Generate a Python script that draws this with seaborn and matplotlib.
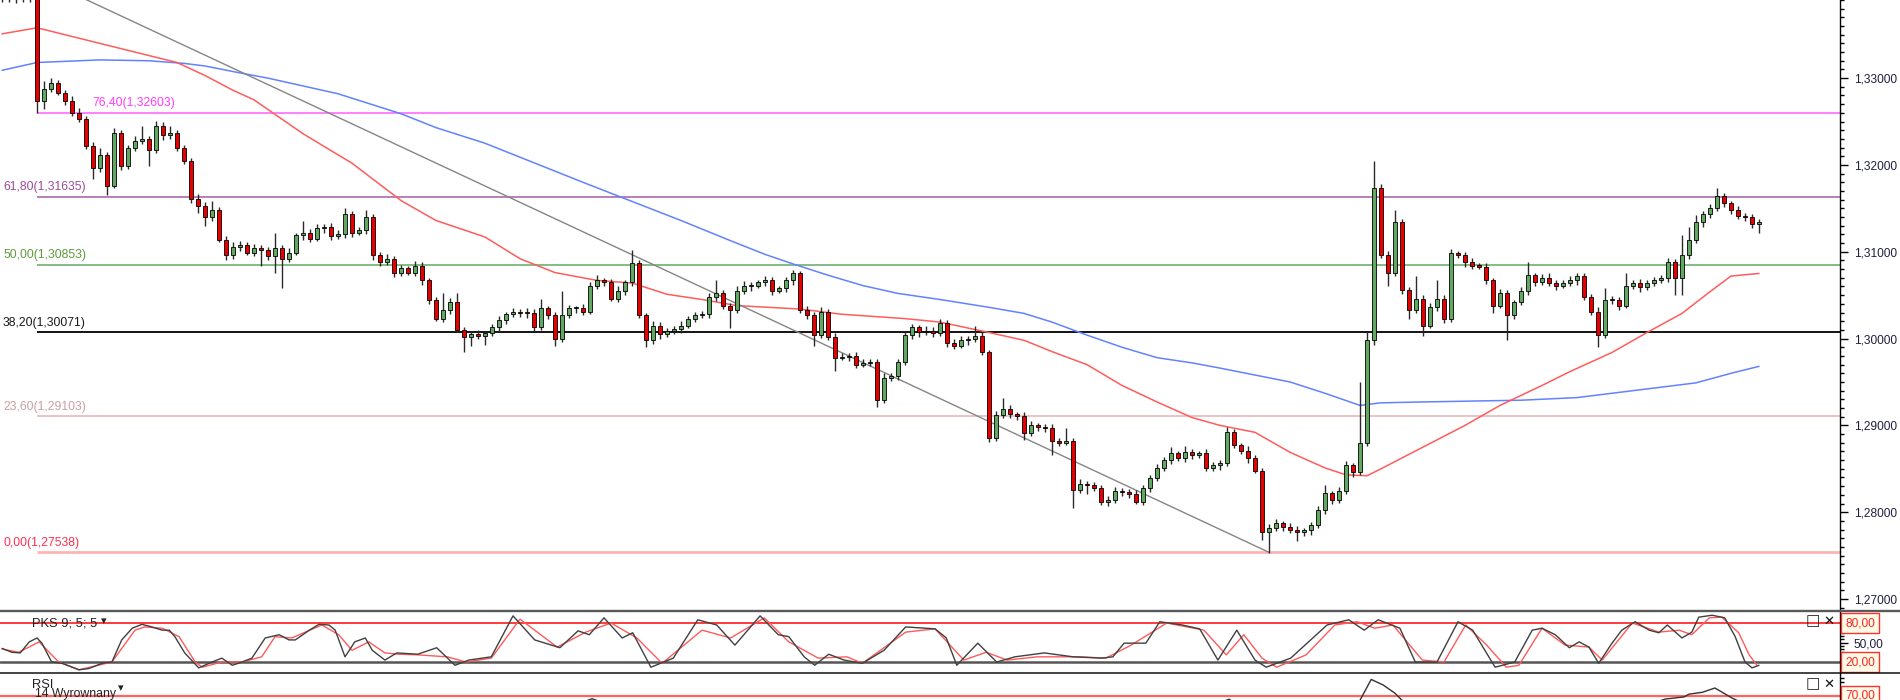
import numpy as np
import matplotlib
matplotlib.use("Agg")
import matplotlib.pyplot as plt
import matplotlib.transforms as mtrans
from matplotlib.lines import Line2D
import seaborn as sns

# ---------------- data ----------------
open0 = 1.3402
closes = [
    1.3405, 1.3408, 1.3403, 1.3406, 1.3410, 1.3274, 1.3288, 1.3294, 1.3283, 1.3274,
    1.3260, 1.3253, 1.3222, 1.3196, 1.3211, 1.3176, 1.3237, 1.3199, 1.3219, 1.3228,
    1.3230, 1.3217, 1.3245, 1.3234, 1.3237, 1.3219, 1.3205, 1.3161, 1.3153, 1.3140,
    1.3148, 1.3114, 1.3096, 1.3106, 1.3108, 1.3099, 1.3104, 1.3102, 1.3095, 1.3104,
    1.3092, 1.3099, 1.3119, 1.3122, 1.3115, 1.3127, 1.3129, 1.3118, 1.3120, 1.3144,
    1.3122, 1.3125, 1.3140, 1.3096, 1.3088, 1.3092, 1.3076, 1.3081, 1.3076, 1.3084,
    1.3067, 1.3044, 1.3023, 1.3033, 1.3042, 1.3010, 1.3002, 1.3005, 1.3003, 1.3006,
    1.3013, 1.3021, 1.3028, 1.3031, 1.3029, 1.3030, 1.3013, 1.3035, 1.3027, 1.3000,
    1.3027, 1.3035, 1.3035, 1.3031, 1.3061, 1.3067, 1.3065, 1.3046, 1.3055, 1.3065,
    1.3087, 1.3027, 1.2998, 1.3015, 1.3005, 1.3009, 1.3011, 1.3015, 1.3023, 1.3027,
    1.3028, 1.3048, 1.3052, 1.3038, 1.3033, 1.3055, 1.3060, 1.3061, 1.3065, 1.3067,
    1.3055, 1.3058, 1.3067, 1.3075, 1.3033, 1.3027, 1.3004, 1.3031, 1.3002, 1.2978,
    1.2979, 1.2980, 1.2970, 1.2972, 1.2973, 1.2929, 1.2955, 1.2957, 1.2973, 1.3004,
    1.3013, 1.3007, 1.3009, 1.3006, 1.3018, 1.2995, 1.2992, 1.2998, 1.3000, 1.3003,
    1.2984, 1.2886, 1.2912, 1.2919, 1.2913, 1.2911, 1.2891, 1.2900, 1.2898, 1.2897,
    1.2882, 1.2880, 1.2882, 1.2826, 1.2833, 1.2831, 1.2828, 1.2812, 1.2814, 1.2825,
    1.2823, 1.2821, 1.2812, 1.2828, 1.2839, 1.2851, 1.2860, 1.2868, 1.2862, 1.2869,
    1.2866, 1.2868, 1.2851, 1.2854, 1.2857, 1.2892, 1.2877, 1.2871, 1.2862, 1.2848,
    1.2777, 1.2782, 1.2787, 1.2783, 1.2779, 1.2777, 1.2779, 1.2785, 1.2802, 1.2822,
    1.2814, 1.2825, 1.2854, 1.2846, 1.2880, 1.2998, 1.3174, 1.3096, 1.3076, 1.3134,
    1.3056, 1.3033, 1.3046, 1.3015, 1.3036, 1.3046, 1.3023, 1.3098, 1.3096, 1.3088,
    1.3084, 1.3083, 1.3067, 1.3038, 1.3052, 1.3027, 1.3042, 1.3055, 1.3073, 1.3065,
    1.3070, 1.3064, 1.3061, 1.3064, 1.3067, 1.3072, 1.3048, 1.3031, 1.3004, 1.3044,
    1.3045, 1.3038, 1.3061, 1.3064, 1.3059, 1.3064, 1.3067, 1.3070, 1.3088, 1.3070,
    1.3096, 1.3113, 1.3134, 1.3143, 1.3150, 1.3164, 1.3156, 1.3148, 1.3141, 1.3140,
    1.3132, 1.3134,
]
# wick lengths in pips above the body top / below the body bottom
upper_wick = [
    3, 3, 3, 3, 3, 7, 9, 6, 4, 3, 5, 6, 3, 4, 8, 4, 5, 3, 4, 5,
    15, 3, 6, 4, 8, 3, 4, 3, 6, 4, 11, 3, 4, 5, 4, 3, 5, 4, 3, 18,
    4, 5, 3, 14, 4, 5, 3, 4, 5, 6, 3, 4, 8, 3, 4, 5, 3, 4, 3, 5,
    4, 3, 4, 20, 5, 11, 3, 4, 5, 3, 4, 5, 3, 4, 3, 5, 4, 11, 3, 4,
    28, 4, 3, 5, 4, 6, 3, 4, 5, 3, 15, 4, 3, 5, 4, 3, 4, 5, 3, 4,
    4, 5, 15, 4, 3, 5, 6, 4, 3, 5, 4, 3, 4, 4, 3, 5, 4, 5, 3, 4,
    4, 3, 5, 4, 3, 4, 5, 3, 4, 5, 4, 3, 5, 4, 5, 3, 4, 5, 3, 12,
    4, 3, 5, 12, 4, 3, 4, 5, 3, 4, 5, 3, 15, 4, 5, 3, 4, 3, 5, 4,
    3, 4, 5, 3, 4, 5, 4, 7, 3, 7, 4, 3, 5, 4, 3, 6, 4, 3, 5, 4,
    3, 4, 5, 3, 4, 5, 3, 4, 5, 9, 3, 4, 5, 3, 70, 10, 31, 4, 5, 14,
    4, 3, 26, 4, 5, 21, 4, 5, 3, 4, 5, 3, 4, 3, 5, 4, 3, 4, 15, 3,
    4, 5, 3, 4, 5, 3, 4, 3, 5, 14, 4, 3, 15, 4, 5, 3, 4, 3, 5, 4,
    23, 15, 8, 4, 5, 9, 4, 3, 5, 4, 3, 4,
]
lower_wick = [
    14, 17, 16, 15, 18, 14, 9, 4, 3, 5, 4, 3, 4, 12, 4, 11, 3, 5, 4, 3,
    4, 18, 3, 5, 4, 3, 4, 5, 8, 10, 4, 3, 6, 4, 5, 3, 4, 18, 5, 20,
    34, 4, 3, 5, 4, 3, 5, 4, 3, 4, 5, 3, 4, 5, 4, 3, 5, 4, 3, 4,
    5, 4, 3, 4, 5, 3, 18, 10, 4, 10, 3, 5, 4, 3, 4, 5, 4, 3, 5, 8,
    4, 3, 5, 4, 3, 4, 5, 3, 4, 5, 4, 3, 8, 4, 5, 3, 4, 5, 3, 4,
    3, 4, 5, 4, 21, 3, 4, 5, 3, 4, 5, 3, 4, 5, 3, 4, 12, 3, 4, 15,
    3, 5, 4, 3, 4, 8, 3, 4, 5, 3, 4, 5, 3, 4, 3, 5, 4, 3, 5, 4,
    3, 5, 4, 3, 4, 5, 8, 3, 4, 5, 16, 4, 3, 21, 4, 10, 3, 4, 5, 3,
    4, 5, 3, 4, 5, 3, 4, 5, 3, 4, 5, 3, 4, 3, 5, 4, 3, 4, 5, 3,
    9, 24, 4, 5, 3, 10, 4, 5, 3, 4, 5, 3, 4, 5, 3, 4, 5, 3, 15, 4,
    5, 10, 4, 12, 3, 4, 5, 4, 3, 5, 4, 3, 4, 8, 3, 29, 4, 3, 5, 4,
    3, 4, 5, 3, 4, 5, 3, 4, 14, 3, 4, 5, 3, 4, 5, 3, 4, 3, 5, 20,
    20, 4, 3, 5, 4, 3, 4, 5, 3, 4, 5, 10,
]

# moving averages (bar index, price)
ma_red_x = [0, 5, 14, 21, 25, 29, 33, 36, 43, 50,
            57, 62, 69, 74, 79, 85, 90, 95, 100, 105,
            114, 120, 129, 134, 141, 146, 150, 155, 160, 165,
            170, 174, 179, 184, 189, 192, 195, 197, 203, 209,
            214, 220, 224, 230, 235, 240, 244, 247, 251]
ma_red_y = [1.3351, 1.3358, 1.3340, 1.3326, 1.3318, 1.3303, 1.3286, 1.3275, 1.3236, 1.3202,
            1.3159, 1.3136, 1.3117, 1.3092, 1.3076, 1.3067, 1.3064, 1.3051, 1.3045, 1.3038,
            1.3034, 1.3028, 1.3023, 1.3019, 1.3007, 1.2998, 1.2985, 1.2970, 1.2946, 1.2927,
            1.2909, 1.2900, 1.2892, 1.2869, 1.2851, 1.2843, 1.2842, 1.2850, 1.2875, 1.2900,
            1.2923, 1.2946, 1.2962, 1.2984, 1.3007, 1.3029, 1.3054, 1.3072, 1.3075]
ma_blue_x = [0, 5, 14, 21, 26, 29, 34, 38, 43, 48,
             57, 62, 69, 83, 97, 104, 109, 113, 118, 123,
             128, 134, 141, 146, 150, 155, 160, 165, 170, 174,
             179, 184, 189, 194, 197, 203, 217, 225, 234, 242,
             247, 251]
ma_blue_y = [1.3309, 1.3318, 1.3321, 1.3320, 1.3317, 1.3314, 1.3306, 1.3300, 1.3291, 1.3282,
             1.3259, 1.3243, 1.3225, 1.3180, 1.3136, 1.3113, 1.3097, 1.3086, 1.3073, 1.3061,
             1.3052, 1.3045, 1.3036, 1.3029, 1.3019, 1.3004, 1.2990, 1.2978, 1.2972, 1.2966,
             1.2958, 1.2950, 1.2937, 1.2923, 1.2926, 1.2927, 1.2929, 1.2932, 1.2941, 1.2949,
             1.2960, 1.2968]

# trend line (from high to low)
trend_x = [5, 181]
trend_y = [1.34169, 1.27538]

# Fibonacci retracement
fib_levels = ["76,40", "61,80", "50,00", "38,20", "23,60", "0,00"]
fib_prices = [1.32603, 1.31635, 1.30853, 1.30071, 1.29103, 1.27538]
fib_start = 5

# stochastic (PKS 9;5;5)
k_x = [0, 1.4, 2.6, 3.9, 5.0, 5.7, 7.1, 8.6, 11.0, 12.4,
       14.3, 15.7, 17.1, 18.6, 20.0, 21.4, 22.9, 23.9, 24.7, 26.1,
       28.1, 30.0, 31.4, 32.9, 34.3, 35.7, 37.6, 39.6, 41.0, 41.9,
       43.9, 45.3, 46.7, 47.6, 49.0, 50.4, 51.9, 52.9, 54.7, 56.4,
       59.4, 62.1, 64.7, 66.7, 69.9, 73.0, 76.1, 79.7, 82.3, 83.9,
       86.0, 88.6, 90.1, 92.7, 95.9, 99.4, 102.1, 104.7, 108.3, 110.9,
       112.4, 114.6, 116.1, 118.1, 120.3, 122.9, 126.0, 129.1, 133.3, 134.9,
       136.4, 139.4, 142.1, 144.7, 148.9, 153.0, 157.1, 158.7, 160.3, 163.4,
       165.4, 168.6, 171.1, 173.7, 176.4, 179.0, 180.6, 184.1, 189.3, 192.4,
       194.6, 196.6, 199.7, 201.9, 205.0, 208.0, 210.1, 213.3, 216.1, 218.6,
       220.0, 221.9, 223.9, 225.3, 226.7, 228.1, 230.0, 231.4, 233.3, 235.3,
       236.7, 237.9, 240.0, 241.4, 242.4, 244.3, 246.1, 247.6, 249.0, 250.0,
       251.0]
k_vals = [41, 35, 34, 51, 57, 49, 20, 18, 8, 10,
          18, 20, 54, 72, 78, 74, 69, 69, 59, 34,
          11, 20, 26, 15, 20, 26, 57, 62, 54, 54,
          69, 78, 77, 69, 28, 51, 57, 38, 23, 34,
          32, 42, 15, 23, 28, 91, 54, 42, 68, 62,
          88, 57, 65, 12, 26, 85, 77, 46, 91, 62,
          59, 28, 15, 32, 23, 18, 38, 74, 71, 57,
          15, 49, 20, 28, 34, 28, 26, 28, 49, 49,
          82, 77, 71, 23, 69, 23, 12, 26, 77, 85,
          69, 85, 72, 20, 20, 82, 69, 12, 20, 69,
          72, 62, 42, 51, 43, 18, 49, 69, 82, 69,
          65, 77, 57, 66, 89, 92, 88, 59, 20, 11,
          15]
d_x = [0, 2.4, 5.3, 8.1, 11.0, 15.7, 19.0, 20.4, 22.9, 25.3,
       27.6, 28.6, 31.4, 34.3, 37.1, 39.0, 41.4, 45.7, 48.1, 50.0,
       52.4, 54.7, 56.7, 59.4, 63.6, 66.3, 69.9, 74.0, 79.3, 83.4,
       87.0, 90.7, 94.3, 100.0, 104.1, 108.9, 112.4, 116.6, 120.7, 122.9,
       129.1, 133.3, 137.4, 140.6, 143.6, 147.9, 154.0, 157.7, 161.3, 166.4,
       171.7, 174.9, 177.4, 180.0, 182.1, 186.3, 190.4, 193.6, 196.1, 198.7,
       202.9, 206.0, 209.1, 212.1, 214.9, 216.7, 220.0, 223.3, 226.7, 228.6,
       232.9, 236.7, 239.6, 241.4, 243.9, 245.7, 248.1, 249.6, 250.7]
d_vals = [40, 35, 51, 20, 8, 20, 69, 74, 72, 59,
          20, 12, 20, 20, 28, 59, 57, 77, 62, 38,
          51, 34, 32, 31, 28, 20, 26, 86, 43, 66,
          80, 57, 18, 69, 57, 88, 51, 26, 28, 18,
          66, 71, 23, 35, 23, 28, 28, 26, 46, 80,
          69, 31, 62, 26, 12, 31, 77, 82, 72, 77,
          23, 20, 77, 46, 12, 15, 72, 46, 43, 23,
          80, 66, 69, 62, 88, 89, 65, 31, 15]

# RSI 14 (only the top of it is visible)
rsi_x = [80.0, 84.3, 88.6, 171.4, 175.3, 178.6, 191.4, 193.9, 195.6, 197.3,
         199.0, 200.7, 234.3, 237.6, 240.3, 241.0, 242.9, 244.7, 247.1, 249.3]
rsi_vals = [55, 67, 55, 55, 66.5, 50, 55, 64, 88, 82,
            73, 60, 58, 66.7, 69, 72, 74, 78.7, 68, 60]

price_ticks = [1.27, 1.28, 1.29, 1.30, 1.31, 1.32, 1.33]

# ---------------- figure ----------------
sns.set_theme(style="white")
plt.rcParams['font.family'] = ['Liberation Sans', 'DejaVu Sans']

W, H = 1900, 700
fig = plt.figure(figsize=(19, 7), dpi=100)
fig.patch.set_facecolor('white')


def fx(px):
    return px / W


def fy(py):
    return 1 - py / H


PLOT_R = 1840
XLIM = (-2 / 7, (PLOT_R - 2) / 7)

ax = fig.add_axes([0, fy(611), fx(PLOT_R), 611 / H])
ax2 = fig.add_axes([0, fy(673), fx(PLOT_R), 62 / H])
ax3 = fig.add_axes([0, fy(742), fx(PLOT_R), 69 / H])

for a in (ax, ax2, ax3):
    a.set_xlim(*XLIM)
    a.set_facecolor('white')
    for s in ('top', 'left', 'bottom'):
        a.spines[s].set_visible(False)
    a.spines['right'].set_color('black')
    a.spines['right'].set_linewidth(1.0)
    a.set_xticks([])
    a.grid(False)

# ---- main price panel ----
ax.set_ylim(1.26862, 1.33893)
c = np.array(closes)
o = np.r_[open0, c[:-1]]
assert len(upper_wick) == len(c) and len(lower_wick) == len(c)
hi = np.maximum(o, c) + np.array(upper_wick) * 1e-4
lo = np.minimum(o, c) - np.array(lower_wick) * 1e-4
idx = np.arange(len(c))

# fib lines
fib_line_colors = ['#ff6bff', '#a45ca4', '#62a862', '#000000', '#e6b4b4', '#ffb0b0']
fib_text_colors = ['#ff3cff', '#9a4c9a', '#5f9a3c', '#1a1a1a', '#c9a0a0', '#ff3050']
fib_lws = [1.2, 1.1, 1.1, 1.3, 1.1, 1.9]
fib_label_px = [92, 3, 3, 3, 3, 3]
for lvl, p, lc, tc, lw, lx in zip(fib_levels, fib_prices, fib_line_colors,
                                   fib_text_colors, fib_lws, fib_label_px):
    ax.hlines(p, fib_start, XLIM[1], colors=lc, lw=lw, zorder=1)
    lab = f"{lvl}({p:.5f})".replace('.', ',')
    ax.annotate(lab, xy=(lx / PLOT_R, p), xycoords=('axes fraction', 'data'),
                xytext=(0, 2.5), textcoords='offset points', va='bottom', ha='left',
                color=tc, fontsize=8.7)

# moving averages and trend line
sns.lineplot(x=ma_blue_x, y=ma_blue_y, ax=ax, color='#6282ff', lw=1.1,
             estimator=None, legend=False, zorder=2)
sns.lineplot(x=ma_red_x, y=ma_red_y, ax=ax, color='#ff5c5c', lw=1.1,
             estimator=None, legend=False, zorder=2)
sns.lineplot(x=trend_x, y=trend_y, ax=ax, color='#858585', lw=1.0,
             estimator=None, legend=False, zorder=2)

# candles
ax.vlines(idx, lo, hi, color='#2a2a2a', lw=1.0, zorder=3)
bull = c >= o
body_bottom = np.minimum(o, c)
body_h = np.maximum(np.abs(c - o), 0.00012)
ax.bar(idx[bull], body_h[bull], bottom=body_bottom[bull], width=0.62,
       color='#62a862', edgecolor='black', linewidth=0.6, zorder=4)
ax.bar(idx[~bull], body_h[~bull], bottom=body_bottom[~bull], width=0.62,
       color='#e60000', edgecolor='black', linewidth=0.6, zorder=4)

ax.yaxis.tick_right()
ax.set_yticks(price_ticks)
ax.set_yticklabels([f"{v:.5f}".replace('.', ',') for v in price_ticks])
ax.set_yticks(np.arange(1.269, 1.3395, 0.001), minor=True)
ax.tick_params(axis='y', which='major', right=True, left=False, direction='out',
               length=6, width=1, color='black', labelsize=8.6, labelcolor='#1f1f3f', pad=4)
ax.tick_params(axis='y', which='minor', right=True, left=False, direction='out',
               length=3, width=1, color='black')

# ---- stochastic panel ----
ax2.set_ylim(3.1, 98.5)
ax2.axhline(80, color='#ff1a1a', lw=1.2, zorder=1)
ax2.axhline(20, color='#555555', lw=1.8, zorder=1)
sns.lineplot(x=d_x, y=d_vals, ax=ax2, color='#ff5a5a', lw=1.0,
             estimator=None, legend=False, zorder=2)
sns.lineplot(x=k_x, y=k_vals, ax=ax2, color='#404040', lw=1.0,
             estimator=None, legend=False, zorder=3)
ax2.yaxis.tick_right()
ax2.set_yticks([50])
ax2.set_yticklabels(['50,00'])
ax2.set_yticks([40, 45, 55, 60, 65, 35], minor=True)
ax2.tick_params(axis='y', which='major', right=True, left=False, length=6, width=1,
                color='black', labelsize=8.6, labelcolor='#1f1f3f', pad=4)
ax2.tick_params(axis='y', which='minor', right=True, left=False, length=3, width=1,
                color='black')

bt2 = mtrans.blended_transform_factory(ax2.transAxes, ax2.transData)
for lv in (80, 20):
    ax2.text(1860 / PLOT_R, lv, f"{lv},00", transform=bt2, ha='center', va='center',
             color='#ff2222', fontsize=8.6, clip_on=False, zorder=10,
             bbox=dict(boxstyle='square,pad=0.32', fc='#fffbe6', ec='#ff3030', lw=1.0))

# ---- RSI panel ----
ax3.set_ylim(20, 95)
ax3.axhline(70, color='#ff6262', lw=1.6, zorder=1)
sns.lineplot(x=rsi_x, y=rsi_vals, ax=ax3, color='#333333', lw=1.0,
             estimator=None, legend=False, zorder=2)
ax3.yaxis.tick_right()
ax3.set_yticks([])
ax3.set_yticks([75, 80, 85, 90], minor=True)
ax3.tick_params(axis='y', which='minor', right=True, left=False, length=3, width=1,
                color='black')
bt3 = mtrans.blended_transform_factory(ax3.transAxes, ax3.transData)
ax3.text(1860 / PLOT_R, 70, "70,00", transform=bt3, ha='center', va='center',
         color='#ff2222', fontsize=8.6, clip_on=False, zorder=10,
         bbox=dict(boxstyle='square,pad=0.32', fc='#fffbe6', ec='#ff3030', lw=1.0))
for a in (ax, ax2, ax3):
    a.set_xlabel('')
    a.set_ylabel('')

# panel separators
fig.add_artist(Line2D([0, 1], [fy(611), fy(611)], transform=fig.transFigure,
                      color='#5a5a5a', lw=1.7))
fig.add_artist(Line2D([0, 1], [fy(673), fy(673)], transform=fig.transFigure,
                      color='#111111', lw=1.1))

# indicator captions and window icons
fig.text(fx(32), fy(626), "PKS 9; 5; 5", fontsize=9.3, color='#222222', va='baseline')
fig.text(fx(101), fy(624), "\u25be", fontsize=8, color='#222222', va='baseline',
         family=['DejaVu Sans'])
fig.text(fx(32), fy(688), "RSI", fontsize=9.3, color='#222222', va='baseline')
fig.text(fx(35), fy(697), "14 Wyrownany", fontsize=8.8, color='#222222', va='baseline')
fig.text(fx(118), fy(691), "\u25be", fontsize=8, color='#222222', va='baseline',
         family=['DejaVu Sans'])
for ypix in (621, 684):
    fig.text(fx(1813), fy(ypix), "\u25a1", fontsize=11, color='#222222',
             ha='center', va='center', family=['DejaVu Sans'])
    fig.text(fx(1829), fy(ypix), "\u2715", fontsize=9.5, color='#111111',
             ha='center', va='center', family=['DejaVu Sans'], fontweight='bold')

fig.savefig("out.png", dpi=100, facecolor='white')
